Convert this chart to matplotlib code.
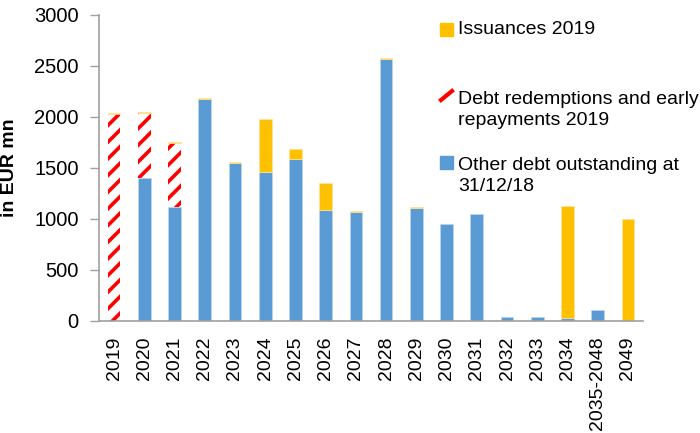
import matplotlib
matplotlib.use("Agg")
import matplotlib.pyplot as plt
from matplotlib.patches import Rectangle
from matplotlib.lines import Line2D
import numpy as np

plt.rcParams['font.family'] = ['Liberation Sans', 'DejaVu Sans']
plt.rcParams['hatch.linewidth'] = 2.6

years = ['2019', '2020', '2021', '2022', '2023', '2024', '2025', '2026', '2027',
         '2028', '2029', '2030', '2031', '2032', '2033', '2034', '2035-2048', '2049']
other_debt = [0, 1405, 1115, 2176, 1546, 1464, 1588, 1091, 1072,
              2569, 1111, 951, 1049, 40, 35, 32, 108, 0]
redemptions = [2030, 635, 633, 0, 0, 0, 0, 0, 0,
               0, 0, 0, 0, 0, 0, 0, 0, 0]
issuances = [10, 10, 10, 14, 8, 513, 95, 262, 8,
             14, 10, 0, 0, 0, 0, 1098, 0, 1000]

blue = '#5B9BD5'
yellow = '#FFC000'
red = '#FF0000'

fig = plt.figure(figsize=(7, 4.33), dpi=100)
ax = fig.add_axes([0.1414, 0.2587, 0.7772, 0.7067])

x = np.arange(len(years))
w = 0.42
other = np.array(other_debt)
red_v = np.array(redemptions)
iss = np.array(issuances)

ax.bar(x[other > 0], other[other > 0], w, color=blue, edgecolor='#BDD7EE',
       linewidth=0.5)
ax.bar(x, red_v, w, bottom=other, facecolor='white', edgecolor=red,
       hatch='//', linewidth=0)
ax.bar(x[iss > 0], iss[iss > 0], w, bottom=(other + red_v)[iss > 0],
       color=yellow, edgecolor='#FFE699', linewidth=0.5)

ax.set_xlim(-0.5, len(years) - 0.5)
ax.set_ylim(0, 3000)
ax.set_yticks(range(0, 3001, 500))
ax.set_xticks(x)
ax.set_xticklabels(years, rotation=90, fontsize=14)
ax.tick_params(axis='x', length=0, pad=11)
ax.tick_params(axis='y', labelsize=14.5, length=6.5, width=1, color='#A0A0A0',
               direction='out', pad=8)
for s in ['top', 'right']:
    ax.spines[s].set_visible(False)
for s in ['left', 'bottom']:
    ax.spines[s].set_color('#A0A0A0')
    ax.spines[s].set_linewidth(1.2)

fig.text(10 / 700, 1 - 168 / 433, 'in EUR mn', rotation=90, fontsize=14,
         fontweight='bold', ha='center', va='center')

# legend entries
W, H = 700, 433


def fx(px):
    return px / W


def fy(py):
    return 1 - py / H


fig.add_artist(Rectangle((fx(440), fy(36)), 13 / W, 13 / H, color=yellow,
                         transform=fig.transFigure))
fig.add_artist(Line2D([fx(441), fx(452)], [fy(100), fy(91)], color=red, lw=3,
                      transform=fig.transFigure))
fig.add_artist(Rectangle((fx(440), fy(169)), 13 / W, 13 / H, color=blue,
                         transform=fig.transFigure))

fs_leg = 14
fig.text(fx(458), fy(30), 'Issuances 2019', fontsize=fs_leg, va='center')
fig.text(fx(458), fy(110), 'Debt redemptions and early\nrepayments 2019',
         fontsize=fs_leg, va='center', linespacing=1.3)
fig.text(fx(458), fy(176), 'Other debt outstanding at\n31/12/18',
         fontsize=fs_leg, va='center', linespacing=1.3)

fig.savefig('out.png', dpi=100)
